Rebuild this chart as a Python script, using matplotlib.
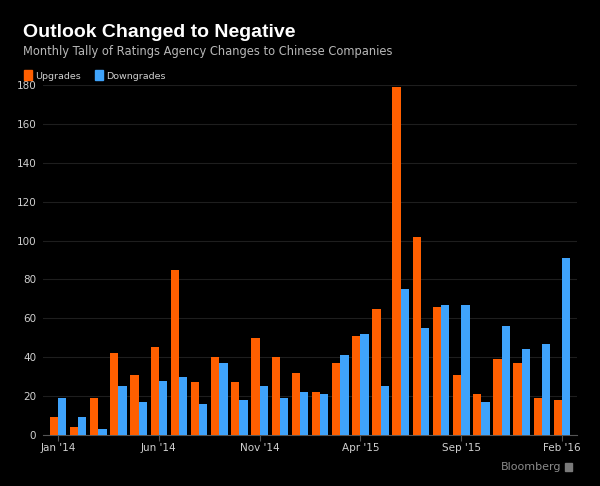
import numpy as np
import matplotlib.pyplot as plt
from matplotlib.patches import Rectangle

months = ["Jan '14", "Feb '14", "Mar '14", "Apr '14", "May '14", "Jun '14", "Jul '14",
          "Aug '14", "Sep '14", "Oct '14", "Nov '14", "Dec '14", "Jan '15", "Feb '15",
          "Mar '15", "Apr '15", "May '15", "Jun '15", "Jul '15", "Aug '15", "Sep '15",
          "Oct '15", "Nov '15", "Dec '15", "Jan '16", "Feb '16"]
upgrades = [9, 4, 19, 42, 31, 45, 85, 27, 40, 27, 50, 40, 32, 22, 37, 51, 65, 179,
            102, 66, 31, 21, 39, 37, 19, 18]
downgrades = [19, 9, 3, 25, 17, 28, 30, 16, 37, 18, 25, 19, 22, 21, 41, 52, 25, 75,
              55, 67, 67, 17, 56, 44, 47, 91]
tick_idx = [0, 5, 10, 15, 20, 25]
y_ticks = [0, 20, 40, 60, 80, 100, 120, 140, 160, 180]

orange = '#ff5f00'
blue = '#3fa3fb'

fig = plt.figure(figsize=(6, 4.86), dpi=100, facecolor='black')
ax = fig.add_axes([0.0717, 0.105, 0.89, 0.72], facecolor='black')

x = np.arange(len(months))
w = 0.41
ax.bar(x - w / 2, upgrades, width=w, color=orange, linewidth=0, zorder=3)
ax.bar(x + w / 2, downgrades, width=w, color=blue, linewidth=0, zorder=3)

ax.set_xlim(-0.74, len(months) - 1 + 0.74)
ax.set_ylim(0, 180)
ax.set_yticks(y_ticks)
ax.set_xticks(tick_idx)
ax.set_xticklabels([months[i] for i in tick_idx])
ax.tick_params(axis='y', length=0, colors='#d0d0d0', labelsize=7.5, pad=5)
ax.tick_params(axis='x', length=4, width=0.8, color='#555555', colors='#d0d0d0',
               labelsize=7.5, pad=2)
ax.grid(axis='y', color='#1e1e1e', linewidth=0.8, zorder=0)
for s in ['top', 'right', 'left']:
    ax.spines[s].set_visible(False)
ax.spines['bottom'].set_color('#555555')
ax.spines['bottom'].set_linewidth(0.8)

fig.text(23 / 600, 1 - 37 / 486, 'Outlook Changed to Negative', color='white',
         fontsize=14, fontweight='bold', family='Liberation Sans', va='baseline')
fig.text(23 / 600, 1 - 55 / 486,
         'Monthly Tally of Ratings Agency Changes to Chinese Companies',
         color='#b8b8b8', fontsize=8.3, va='baseline')

# legend
fig.patches.append(Rectangle((24 / 600, 1 - 80 / 486), 8 / 600, 10 / 486,
                             transform=fig.transFigure, color=orange))
fig.text(35 / 600, 1 - 79 / 486, 'Upgrades', color='#d0d0d0', fontsize=6.8, va='baseline')
fig.patches.append(Rectangle((95 / 600, 1 - 80 / 486), 8 / 600, 10 / 486,
                             transform=fig.transFigure, color=blue))
fig.text(106 / 600, 1 - 79 / 486, 'Downgrades', color='#d0d0d0', fontsize=6.8, va='baseline')

fig.text(561 / 600, 1 - 470 / 486, 'Bloomberg', color='#8a8a8a', fontsize=8,
         ha='right', va='baseline')
fig.patches.append(Rectangle((565 / 600, 1 - 471 / 486), 7 / 600, 8 / 486,
                             transform=fig.transFigure, color='#7a7a7a'))

fig.savefig('out.png', dpi=100, facecolor='black')
